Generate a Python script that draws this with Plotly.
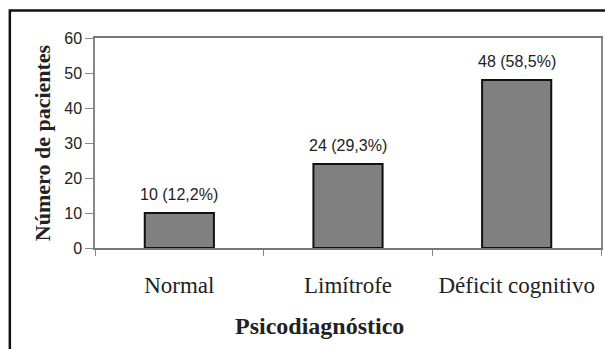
import plotly.graph_objects as go

categories = ["Normal", "Limítrofe", "Déficit cognitivo"]
values = [10, 24, 48]
labels = ["10 (12,2%)", "24 (29,3%)", "48 (58,5%)"]
y_ticks = [0, 10, 20, 30, 40, 50, 60]

W, H = 605, 349
ml, mr, mt, mb = 95, 2, 38, 101
pw = W - ml - mr
ph = H - mt - mb

def px_to_paper_x(x):
    return (x - ml) / pw

def px_to_paper_y(y):
    return (H - mb - y) / ph

fig = go.Figure(go.Bar(
    x=categories, y=values,
    marker=dict(color="#808080", line=dict(color="#111", width=2)),
    width=0.41,
))

bar_labels = [dict(
    x=c, y=v, text=t, xref="x", yref="y", showarrow=False,
    yanchor="bottom", xanchor="center", yshift=8,
    font=dict(family="Liberation Sans, Arial", size=16, color="#222"),
) for c, v, t in zip(categories, values, labels)]

fig.update_layout(
    width=W, height=H,
    margin=dict(l=ml, r=mr, t=mt, b=mb),
    paper_bgcolor="white", plot_bgcolor="white",
    showlegend=False,
    xaxis=dict(
        type="category", tickson="boundaries", ticks="outside", ticklen=6,
        tickcolor="#888", linecolor="#777", linewidth=1.5, mirror=True,
        showgrid=False,
        tickfont=dict(family="Liberation Serif, Times New Roman", size=23, color="#222"),
        ticklabelstandoff=16,
    ),
    yaxis=dict(
        range=[0, 60], tickvals=y_ticks, ticks="outside", ticklen=8,
        tickcolor="#888", linecolor="#888", linewidth=1.5, mirror=True,
        showgrid=False, zeroline=False,
        tickfont=dict(family="Liberation Sans, Arial", size=16, color="#222"),
        title=dict(text="<b>Número de pacientes</b>", standoff=8,
                   font=dict(family="Liberation Serif, Times New Roman", size=22, color="#222")),
    ),
    annotations=bar_labels + [dict(
        text="<b>Psicodiagnóstico</b>", xref="paper", yref="paper",
        x=px_to_paper_x(320), y=px_to_paper_y(326), xanchor="center", yanchor="middle",
        showarrow=False,
        font=dict(family="Liberation Serif, Times New Roman", size=24, color="#222"),
    )],
    shapes=[dict(
        type="rect", xref="paper", yref="paper",
        x0=px_to_paper_x(9.5), x1=px_to_paper_x(640),
        y0=px_to_paper_y(400), y1=px_to_paper_y(10.5),
        line=dict(color="#111", width=2.5), fillcolor="rgba(0,0,0,0)",
        layer="above",
    )],
)

fig.write_html("out.html", config={"displayModeBar": False},
               post_script="document.body.style.margin='0';")
